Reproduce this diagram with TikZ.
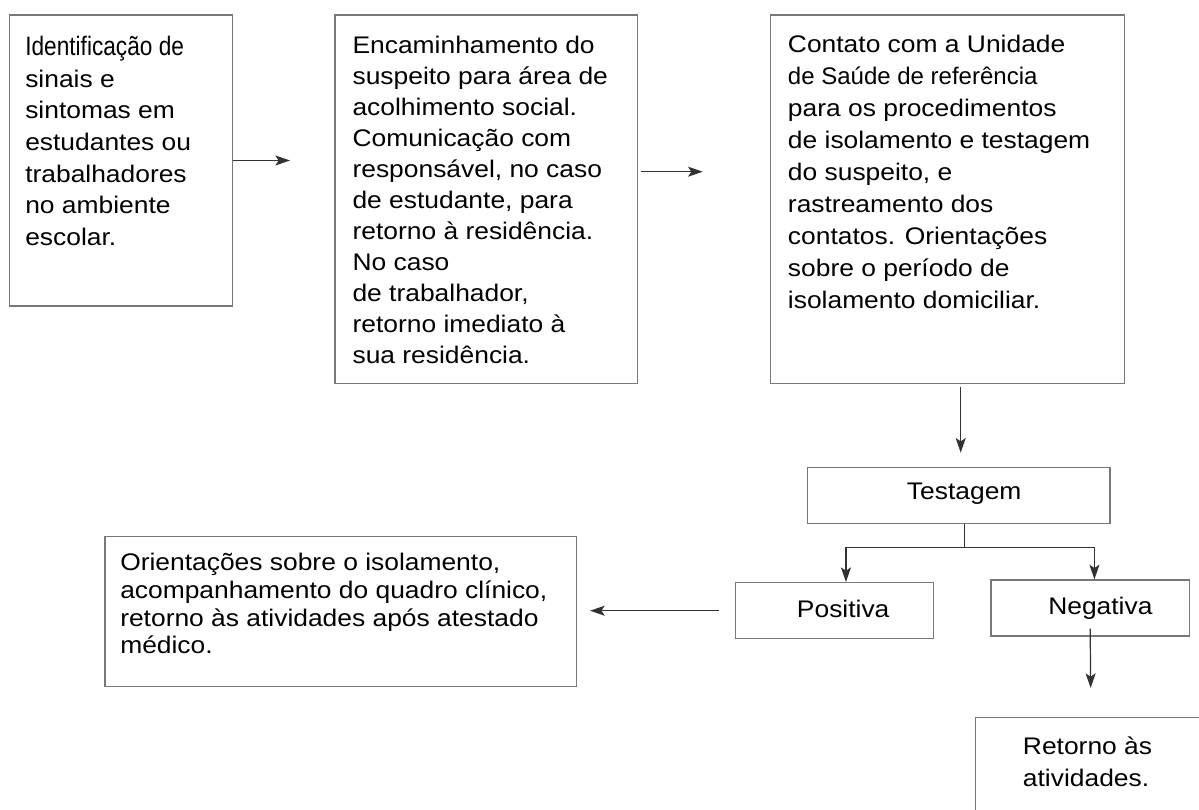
\documentclass[tikz,border=0pt]{standalone}
\usepackage{fontspec}
\setmainfont{Liberation Sans}[FakeStretch=1.1]
\newfontfamily\narrowfont{Liberation Sans}[FakeStretch=0.85]
\newfontfamily\plainfont{Liberation Sans}
\usetikzlibrary{positioning, fit, arrows.meta}
\definecolor{boxgray}{RGB}{120,120,120}
\definecolor{arrowgray}{RGB}{50,50,50}

\begin{document}
\begin{tikzpicture}[x=0.75pt, y=-0.75pt,
		box/.style={rectangle, draw=boxgray, line width=1pt, inner sep=0pt},
		txt/.style={align=left, inner sep=0pt, anchor=north west,
			font=\fontsize{18}{#1}\selectfont},
		txt/.default=23.25,
		arr/.style={draw=arrowgray, line width=0.9pt,
			-{Stealth[length=11pt, width=7.5pt, inset=2.5pt]}},
		line/.style={draw=arrowgray, line width=0.9pt}
		]
		\useasboundingbox (0,0) rectangle (1199,810);
		% top row
		\node[box, fit={(9.3,15) (232.3,306)}] (ident) {};
		\node[txt=23.75] (identtxt) at (25,36) {{\narrowfont\fontsize{20}{23.75}\selectfont Identificação de}\\sinais e\\sintomas em\\estudantes ou\\trabalhadores\\no ambiente\\escolar.};
		\node[box, fit={(335,15) (637.3,383.3)}] (encam) {};
		\node[txt=23.25] (encamtxt) at (352.3,36) {Encaminhamento do\\suspeito para área de\\acolhimento social.\\Comunicação com\\responsável, no caso\\de estudante, para\\retorno à residência.\\No caso\\de trabalhador,\\retorno imediato à\\sua residência.};
		\node[box, fit={(770.7,15) (1124.3,383.3)}] (contato) {};
		\node[txt=24] (contatotxt) at (787.7,35) {Contato com a Unidade\\{\plainfont de Saúde de referência}\\para os procedimentos\\de isolamento e testagem\\do suspeito, e\\rastreamento dos\\contatos. Orientações\\sobre o período de\\isolamento domiciliar.};
		% test and results
		\node[box, fit={(807.3,467.3) (1110,523.3)}] (teste) {};
		\node[txt] (testetxt) at (906.7,483) {Testagem};
		\node[box, fit={(735.7,582.7) (933.3,638.7)}] (posit) {};
		\node[txt] (posittxt) at (796.7,600) {Positiva};
		\node[box, fit={(991,580) (1189.3,636)}] (negat) {};
		\node[txt] (negattxt) at (1048,596.7) {Negativa};
		\node[box, fit={(105,536.7) (576.7,686.7)}] (orient) {};
		\node[txt=20.7] (orienttxt) at (120,553.3) {Orientações sobre o isolamento,\\acompanhamento do quadro clínico,\\retorno às atividades após atestado\\médico.};
		\node[box, fit={(975.7,717.7) (1215,830)}] (retorno) {};
		\node[txt=23.75] (retornotxt) at (1022.7,736.7) {Retorno às\\atividades.};
		% connectors
		\coordinate (identout) at (290,160.5);
		\coordinate (encamout) at (702.7,171.7);
		\coordinate (contatoout) at (960.7,452.7);
		\coordinate (split) at (964.3,547.7);
		\coordinate (negatout) at (1090.7,688);
		\draw[arr] (ident.east) -- (identout);
		\draw[arr, shorten <=2pt] (encam.east |- encamout) -- (encamout);
		\draw[arr, shorten <=2.5pt] (contato.south -| contatoout) -- (contatoout);
		\draw[line] (teste.south -| split) -- (split);
		\draw[arr] (split) -| ([xshift=8.6pt]posit.north);
		\draw[arr] (split) -| ([xshift=3.2pt]negat.north);
		\draw[arr] ([yshift=6pt]negat.south) -- (negatout);
		\draw[arr, shorten <=11.8pt, shorten >=9.5pt] (posit.west) -- (orient.east |- posit.west);
\end{tikzpicture}
\end{document}
